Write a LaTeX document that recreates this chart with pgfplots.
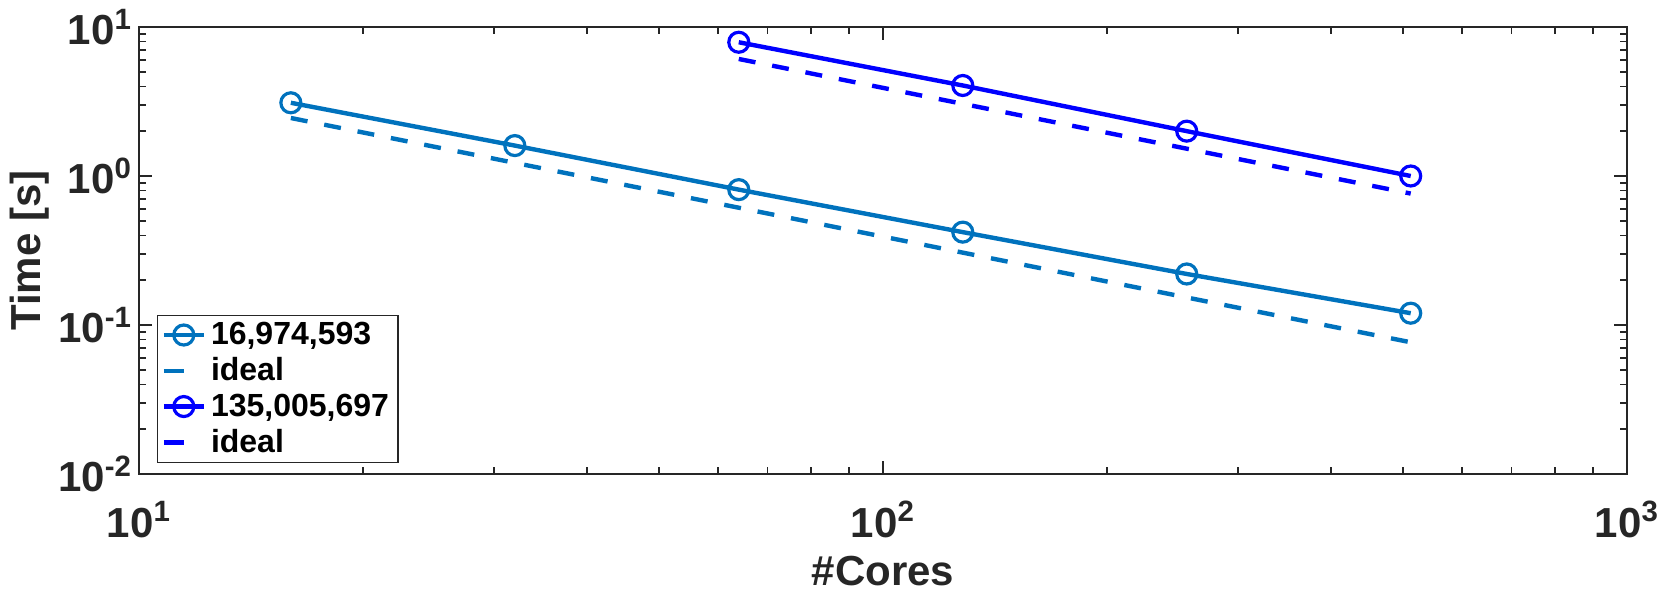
\documentclass[border=0pt]{standalone}
\usepackage{fontspec}
\setmainfont{Liberation Sans}
\usepackage{pgfplots}
\pgfplotsset{compat=1.18}
\definecolor{c1}{RGB}{0,114,189}
\definecolor{c2}{RGB}{0,0,255}
\definecolor{axc}{RGB}{38,38,38}
\pgfplotsset{
  mainleg/.style={legend image code/.code={\draw[mark repeat=2,mark phase=2,##1] plot coordinates {(0pt,0pt)(10pt,0pt)(20pt,0pt)};}},
  idealleg/.style={legend image code/.code={\draw[##1, solid] (0pt,0pt) -- (10pt,0pt);}},
}
\begin{document}
\begin{tikzpicture}
\begin{axis}[name=ax, xmode=log, ymode=log, log basis x=10, log basis y=10,
  scale only axis, width=744pt, height=223.5pt,
  xmin=10, xmax=1000, ymin=0.01, ymax=10,
  xtick={10,100,1000},
  xticklabels={10\textsuperscript{1},10\textsuperscript{2},10\textsuperscript{3}},
  minor xtick={20,30,40,50,60,70,80,90,200,300,400,500,600,700,800,900},
  ytick={0.01,0.1,1,10},
  yticklabels={10\textsuperscript{-2},10\textsuperscript{-1},10\textsuperscript{0},10\textsuperscript{1}},
  minor ytick={0.02,0.03,0.04,0.05,0.06,0.07,0.08,0.09,0.2,0.3,0.4,0.5,0.6,0.7,0.8,0.9,2,3,4,5,6,7,8,9},
  tick align=inside, major tick length=6.5pt, minor tick length=3.5pt,
  axis line style={axc, line width=0.75pt},
  every tick/.style={axc, line width=0.75pt},
  ticklabel style={font=\fontsize{21}{25}\selectfont\bfseries, text=axc},
  xticklabel style={anchor=base, yshift=-31.5pt},
  xlabel={\#Cores}, ylabel={Time [s]},
  label style={font=\fontsize{21}{25}\selectfont\bfseries, text=axc},
  xlabel style={at={(axis description cs:0.5,0)}, anchor=base, yshift=-55.5pt},
  ylabel style={at={(axis description cs:0,0.5)}, anchor=center, yshift=54.5pt},
  legend style={at={(0,0)}, anchor=south west, xshift=9pt, yshift=5.5pt,
    font=\fontsize{16}{19}\selectfont\bfseries, draw=axc, line width=0.6pt,
    inner xsep=2pt, inner ysep=1pt, row sep=0pt,
    nodes={inner sep=2.5pt, text=black}},
  legend cell align=left,
  mainleg,
]
\addplot[c1, line width=2.2pt, mark=o, mark size=5pt, mark options={line width=1.6pt, solid}]
  coordinates {(16,3.1)(32,1.6)(64,0.81)(128,0.42)(256,0.22)(512,0.12)};
\addlegendentry{16,974,593}
\addplot[c1, line width=2.2pt, dash pattern=on 8.5pt off 8.5pt, idealleg]
  coordinates {(16,2.45)(32,1.225)(64,0.6125)(128,0.306)(256,0.153)(512,0.0766)};
\addlegendentry{ideal}
\addplot[c2, line width=2.2pt, mark=o, mark size=5pt, mark options={line width=1.6pt, solid}]
  coordinates {(64,7.9)(128,4.05)(256,2.0)(512,1.0)};
\addlegendentry{135,005,697}
\addplot[c2, line width=2.2pt, dash pattern=on 8.5pt off 8.5pt, idealleg]
  coordinates {(64,6.1)(128,3.05)(256,1.525)(512,0.7625)};
\addlegendentry{ideal}
\end{axis}
\pgfresetboundingbox
\path (ax.south west) ++(-69.5pt,-59pt) coordinate (bl);
\path (ax.north east) ++(20.5pt,13.5pt) coordinate (tr);
\path[use as bounding box] (bl) rectangle (tr);
\end{tikzpicture}
\end{document}
